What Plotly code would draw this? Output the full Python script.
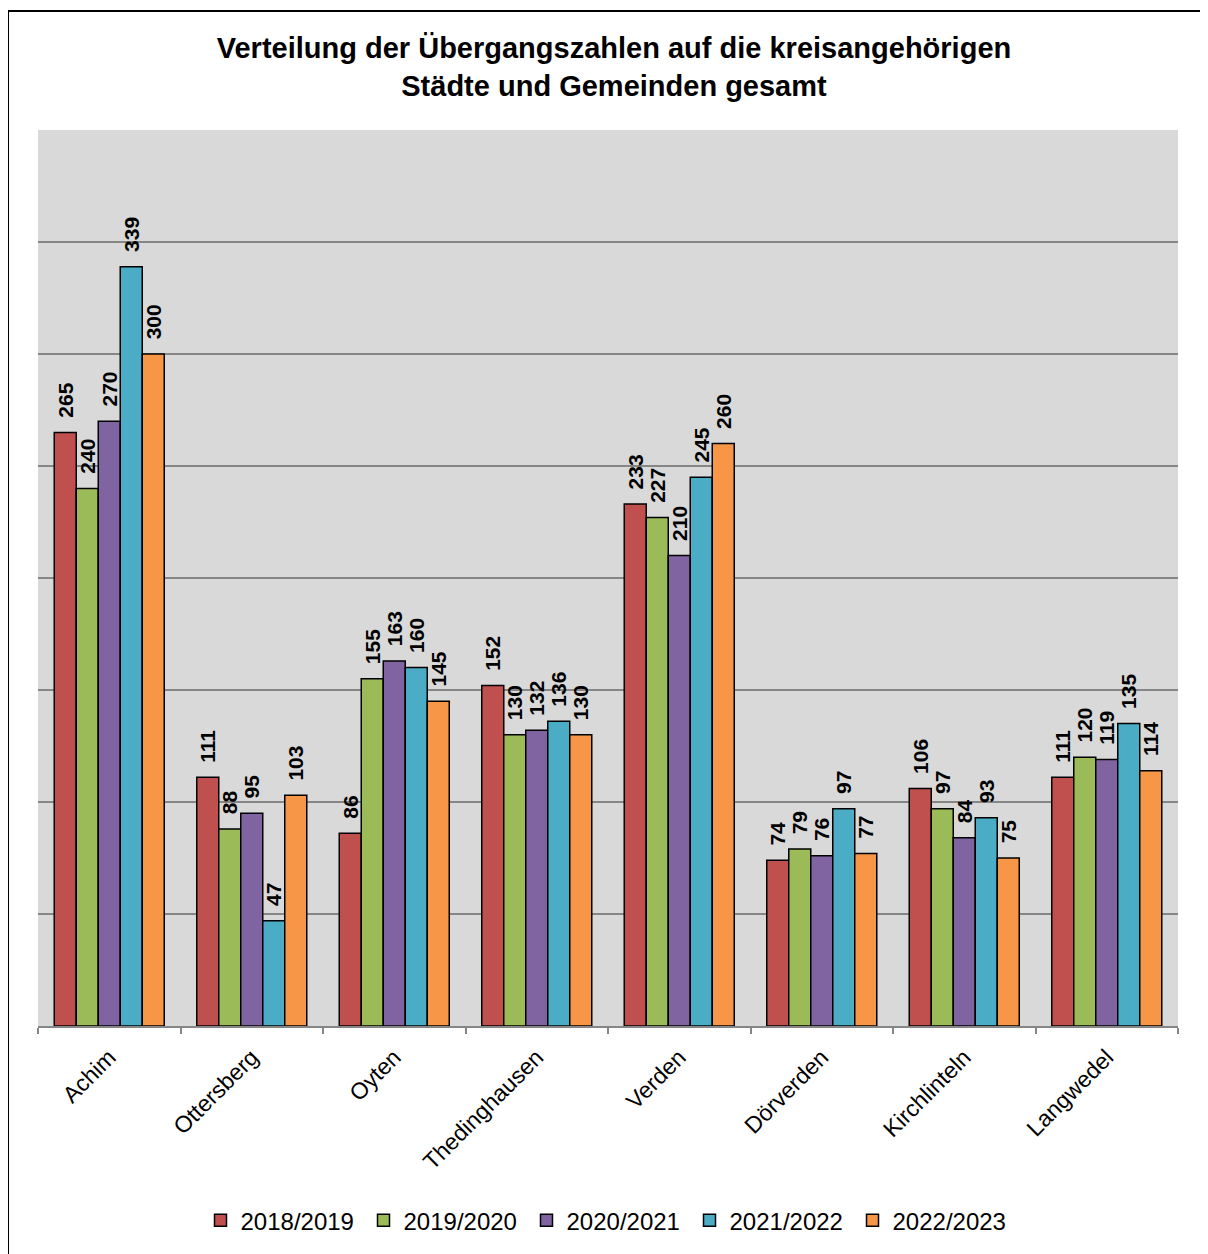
"""Übergangszahlen nach Städten und Gemeinden (grouped bar chart)."""

import plotly.graph_objects as go

towns = [
    "Achim",
    "Ottersberg",
    "Oyten",
    "Thedinghausen",
    "Verden",
    "Dörverden",
    "Kirchlinteln",
    "Langwedel",
]
years = ["2018/2019", "2019/2020", "2020/2021", "2021/2022", "2022/2023"]
values_2018_2019 = [265, 111, 86, 152, 233, 74, 106, 111]
values_2019_2020 = [240, 88, 155, 130, 227, 79, 97, 120]
values_2020_2021 = [270, 95, 163, 132, 210, 76, 84, 119]
values_2021_2022 = [339, 47, 160, 136, 245, 97, 93, 135]
values_2022_2023 = [300, 103, 145, 130, 260, 77, 75, 114]
series = [
    values_2018_2019,
    values_2019_2020,
    values_2020_2021,
    values_2021_2022,
    values_2022_2023,
]
colors = ["#C0504D", "#9BBB59", "#8064A2", "#4BACC6", "#F79646"]

FONT = "Liberation Sans, Arial, sans-serif"
PAD = "\u00a0\u00a0"  # keeps the rotated labels a little above the bars

fig = go.Figure()
for year, vals, color in zip(years, series, colors):
    fig.add_trace(
        go.Bar(
            x=towns,
            y=vals,
            name=year,
            marker={"color": color, "line": {"color": "black", "width": 1.5}},
            text=[PAD + str(v) for v in vals],
            textposition="outside",
            textangle=-90,
            constraintext="none",
            textfont={"family": FONT, "size": 21, "color": "black", "weight": "bold"},
            cliponaxis=False,
        )
    )

# page body adds an 8px offset, so the figure is 8px smaller than the window
fig.update_layout(
    width=1200,
    height=1246,
    barmode="group",
    bargap=0.228,
    bargroupgap=0,
    paper_bgcolor="white",
    plot_bgcolor="#D9D9D9",
    margin={"l": 30, "r": 30, "t": 122, "b": 227},
    font={"family": FONT, "color": "black"},
    title={
        "text": "<b>Verteilung der Übergangszahlen auf die kreisangehörigen<br>"
        "Städte und Gemeinden gesamt</b>",
        "x": 0.505,
        "xanchor": "center",
        "y": 0.96,
        "yanchor": "top",
        "font": {"size": 29, "family": FONT},
    },
    legend={
        "orientation": "h",
        "x": 0.5,
        "xanchor": "center",
        "y": -0.216,
        "yanchor": "middle",
        "font": {"size": 24, "family": FONT},
        "itemwidth": 30,
        "entrywidth": 118,
        "traceorder": "normal",
    },
    showlegend=True,
)

fig.update_xaxes(
    tickangle=-45,
    tickfont={"size": 23, "family": FONT},
    showline=True,
    linecolor="#868686",
    linewidth=1.5,
    ticks="outside",
    tickson="boundaries",
    ticklen=6,
    tickcolor="#868686",
    tickwidth=1.5,
    ticklabelstandoff=7,
    showgrid=False,
)
fig.update_yaxes(
    range=[0, 400],
    dtick=50,
    showticklabels=False,
    showgrid=True,
    gridcolor="#868686",
    gridwidth=1.5,
    zeroline=False,
    showline=False,
)

# outer chart frame
fig.add_shape(
    type="rect",
    xref="paper",
    yref="paper",
    x0=-0.0263,
    x1=1.0254,
    y0=-0.26,
    y1=1.1327,
    line={"color": "black", "width": 2},
    layer="below",
)

fig.write_html("out.html")
